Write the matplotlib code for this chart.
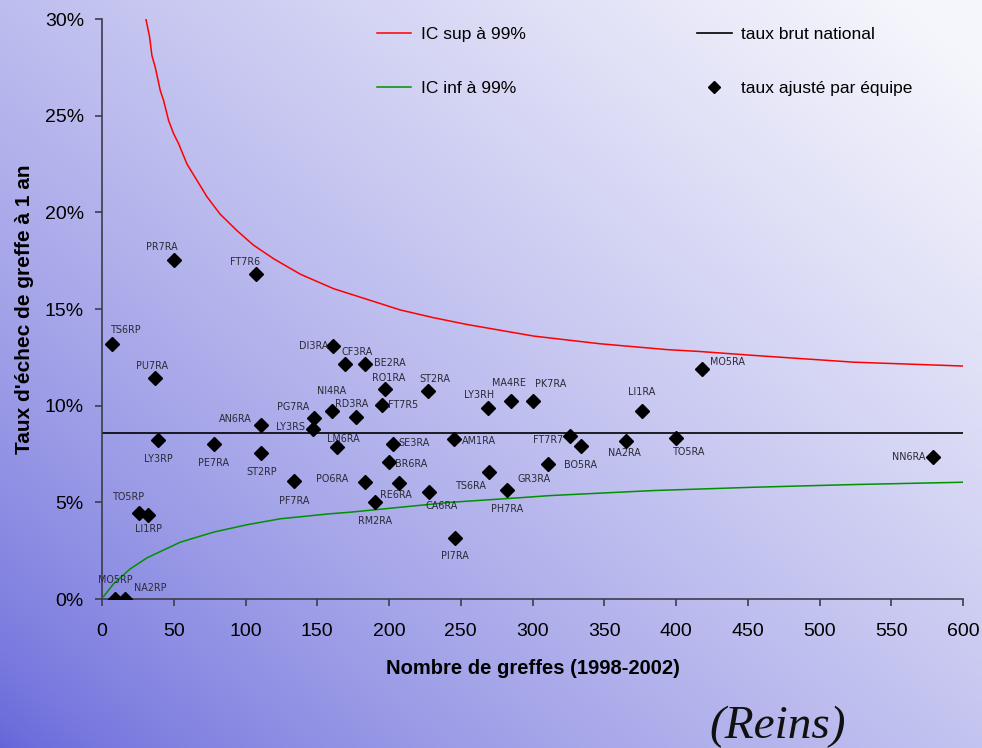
import numpy as np
import matplotlib
matplotlib.use("Agg")
import matplotlib.pyplot as plt
from matplotlib.lines import Line2D
from matplotlib.ticker import FuncFormatter

# ---------------- data ----------------
teams = ["PR7RA", "FT7R6", "TS6RP", "PU7RA", "AN6RA", "LY3RP", "PE7RA", "ST2RP",
         "DI3RA", "CF3RA", "BE2RA", "RO1RA", "ST2RA", "NI4RA", "RD3RA", "FT7R5",
         "PG7RA", "LY3RS", "LY3RH", "MA4RE", "PK7RA", "LM6RA", "SE3RA", "AM1RA",
         "BR6RA", "PO6RA", "RE6RA", "CA6RA", "RM2RA", "TS6RA", "PH7RA", "PI7RA",
         "PF7RA", "MO5RA", "LI1RA", "FT7R7", "BO5RA", "NA2RA", "TO5RA", "NN6RA",
         "GR3RA", "TO5RP", "LI1RP", "MO5RP", "NA2RP"]
n_grafts = [50, 107, 7, 37, 111, 39, 78, 111,
            161, 169, 183, 197, 227, 160, 177, 195,
            148, 147, 269, 285, 300, 164, 203, 245,
            200, 183, 207, 228, 190, 270, 282, 246,
            134, 418, 376, 326, 334, 365, 400, 579,
            311, 26, 32, 9, 16]
adj_rate = [17.51, 16.82, 13.17, 11.41, 8.98, 8.22, 8.03, 7.53,
            13.08, 12.17, 12.17, 10.87, 10.77, 9.75, 9.43, 10.01,
            9.35, 8.78, 9.87, 10.22, 10.22, 7.84, 8.03, 8.29,
            7.08, 6.04, 5.98, 5.55, 5.01, 6.56, 5.66, 3.17,
            6.11, 11.89, 9.74, 8.41, 7.89, 8.16, 8.34, 7.37,
            6.99, 4.46, 4.36, 0.0, 0.0]

national_rate = 8.6

ic_sup_n = [30.6, 33.2, 34.8, 37.1, 40.6, 42.9, 46.4, 49.9, 53.4, 59.2, 66.2,
            73.2, 82.4, 94.1, 105.6, 119.6, 138.2, 161.4, 184.7, 207.9, 231.1,
            254.3, 277.6, 300.8, 324.0, 347.3, 370.5, 393.7, 417.0, 454.0, 523.8,
            600.0]
ic_sup = [30.0, 29.06, 28.1, 27.51, 26.3, 25.79, 24.75, 24.07, 23.55, 22.5, 21.65,
          20.8, 19.9, 19.05, 18.3, 17.6, 16.8, 16.05, 15.5, 14.95, 14.55,
          14.2, 13.9, 13.6, 13.4, 13.2, 13.05, 12.9, 12.8, 12.6, 12.25,
          12.05]

ic_inf_n = [1.1, 8.1, 19.7, 31.4, 54.6, 77.8, 101.0, 124.3, 159.1, 173.0,
            242.7, 291.5, 312.4, 384.4, 454.0, 523.8, 600.0]
ic_inf = [0.13, 0.79, 1.56, 2.13, 2.94, 3.46, 3.84, 4.15, 4.41, 4.49,
          5.0, 5.24, 5.35, 5.61, 5.78, 5.92, 6.04]

x_ticks = list(range(0, 601, 50))
y_ticks = [0, 5, 10, 15, 20, 25, 30]

# label offsets in pixels (dx, dy with dy positive = downwards)
label_offsets = {
    "PR7RA": (-12, -13), "FT7R6": (-10, -12), "TS6RP": (14, -14), "PU7RA": (-3, -12),
    "AN6RA": (-26, -6), "LY3RP": (0, 19), "PE7RA": (0, 19), "ST2RP": (0, 19),
    "DI3RA": (-19, 0), "CF3RA": (13, -12), "BE2RA": (25, -1), "RO1RA": (4, -11),
    "ST2RA": (7, -12), "NI4RA": (0, -19), "RD3RA": (-4, -13), "FT7R5": (21, 0),
    "PG7RA": (-21, -11), "LY3RS": (-22, -2), "LY3RH": (-9, -13), "MA4RE": (-2, -18),
    "PK7RA": (18, -17), "LM6RA": (6, -8), "SE3RA": (21, -1), "AM1RA": (25, 2),
    "BR6RA": (22, 2), "PO6RA": (-32, -3), "RE6RA": (-3, 12), "CA6RA": (13, 14),
    "RM2RA": (0, 19), "TS6RA": (-18, 14), "PH7RA": (0, 19), "PI7RA": (0, 18),
    "PF7RA": (0, 20), "MO5RA": (26, -7), "LI1RA": (0, -19), "FT7R7": (-22, 4),
    "BO5RA": (-1, 19), "NA2RA": (-1, 12), "TO5RA": (13, 14), "NN6RA": (-24, 0),
    "GR3RA": (-14, 15), "TO5RP": (-10, -16), "LI1RP": (1, 14), "MO5RP": (0, -19),
    "NA2RP": (25, -11),
}

# ---------------- figure ----------------
W, H = 982, 748
fig = plt.figure(figsize=(W / 100, H / 100), dpi=100)

# background gradient (dark blue-violet bottom-left -> pale lavender top-right)
bg = fig.add_axes([0, 0, 1, 1], zorder=-10)
xs = np.linspace(0, 1, 400)
ys = np.linspace(1, 0, 300)
XX, YY = np.meshgrid(xs, ys)
t = np.clip(0.55 * XX + 0.5 * YY, 0, 1) ** 0.7
t = t[..., None]
c0 = np.array([100, 100, 218]) / 255.0
c1 = np.array([245, 245, 252]) / 255.0
img = c0 * (1 - t) + c1 * t
bg.imshow(img, aspect="auto", extent=[0, 1, 0, 1], interpolation="bilinear")
bg.axis("off")

ax = fig.add_axes([102 / W, 1 - 599 / H, 861 / W, 580 / H])
ax.set_facecolor("none")

ax.plot(ic_sup_n, ic_sup, color="#ff0000", lw=1.1, zorder=2)
ax.plot(ic_inf_n, ic_inf, color="#009000", lw=1.1, zorder=2)
ax.axhline(national_rate, xmin=0, xmax=1, color="black", lw=1.2, zorder=2)
ax.plot(n_grafts, adj_rate, linestyle="none", marker="D", ms=7,
        color="black", zorder=4)

for name, x, y in zip(teams, n_grafts, adj_rate):
    dx, dy = label_offsets[name]
    ax.annotate(name, (x, y), xytext=(dx, -dy), textcoords="offset pixels",
                ha="center", va="center", fontsize=6.9, color="#2a2a38",
                family="DejaVu Sans", zorder=5)

ax.set_xlim(0, 600)
ax.set_ylim(0, 30)
ax.set_xticks(x_ticks)
ax.set_yticks(y_ticks)
ax.yaxis.set_major_formatter(FuncFormatter(lambda v, p: f"{int(round(v))}%"))

for side in ("top", "right"):
    ax.spines[side].set_visible(False)
for side in ("left", "bottom"):
    ax.spines[side].set_color("#3c3c4c")
    ax.spines[side].set_linewidth(1.2)

ax.tick_params(axis="both", direction="out", length=5, width=1.2, color="#3c3c4c",
               labelsize=14, labelcolor="black")
ax.tick_params(axis="y", pad=8)
ax.tick_params(axis="x", pad=12)
for lab in ax.get_xticklabels() + ax.get_yticklabels():
    lab.set_family("Liberation Sans")

ax.set_xlabel("Nombre de greffes (1998-2002)", fontsize=14.5, fontweight="bold",
              family="Liberation Sans", labelpad=14)
ax.set_ylabel("Taux d'échec de greffe à 1 an", fontsize=15, fontweight="bold",
              family="Liberation Sans", labelpad=8)

handles = [Line2D([], [], color="#ff0000", lw=1.1),
           Line2D([], [], color="#009000", lw=1.1),
           Line2D([], [], color="black", lw=1.2),
           Line2D([], [], linestyle="none", marker="D", ms=6.5, color="black")]
labels = ["IC sup à 99%", "IC inf à 99%", "taux brut national", "taux ajusté par équipe"]
ax.legend(handles, labels, loc="upper left", bbox_to_anchor=(0.319, 0.987),
          ncol=2, frameon=False, borderpad=0, borderaxespad=0,
          handlelength=2.0, handletextpad=0.55, labelspacing=2.25,
          columnspacing=9.85, prop={"family": "Liberation Sans", "size": 12.5})

fig.text(778 / W, 1 - 727 / H, "(Reins)", fontsize=34, style="italic",
         family="Liberation Serif", ha="center", va="center", color="#111111")

fig.savefig("out.png", dpi=100)
